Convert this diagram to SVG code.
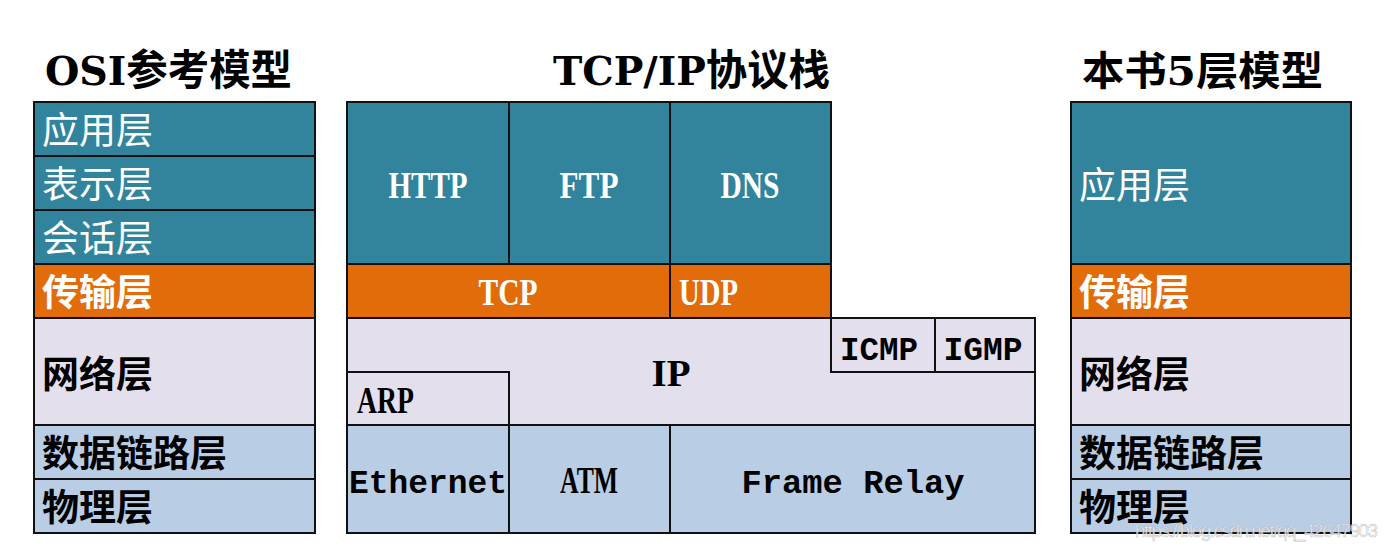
<svg xmlns="http://www.w3.org/2000/svg" width="1388" height="550" viewBox="0 0 1388 550">
<style>
.box{stroke:#111;stroke-width:2}
.app{fill:#31849B}
.tr{fill:#E36C0A}
.net{fill:#E4DFEC}
.link{fill:#B9CDE5}
.title{font-family:"DejaVu Serif","Noto Sans CJK SC",serif;font-weight:bold;font-size:40px;fill:#000}
.cj{font-family:"Noto Sans CJK SC",sans-serif;font-size:37px}
.w{fill:#fff}
.k{fill:#000;font-weight:bold}
.lat{font-family:"Liberation Serif",serif;font-weight:bold;font-size:37px}
.mono{font-family:"Liberation Mono",monospace;font-weight:bold;font-size:34px}
</style>
<rect width="1388" height="550" fill="#fff"/>
<g id="titles">
<text class="title" x="45" y="85" textLength="247" lengthAdjust="spacingAndGlyphs">OSI<tspan font-family="Noto Sans CJK SC, sans-serif" font-size="42">参考模型</tspan></text>
<text class="title" x="553" y="85" textLength="277" lengthAdjust="spacingAndGlyphs">TCP/IP<tspan font-family="Noto Sans CJK SC, sans-serif" font-size="42">协议栈</tspan></text>
<text class="title" x="1082" y="85" textLength="241" lengthAdjust="spacingAndGlyphs" font-family="Noto Sans CJK SC, sans-serif" font-size="42">本书5层模型</text>
</g>
<g id="osi">
<g id="osi-app"><rect class="box app" x="34" y="102" width="281" height="54"/><text class="cj w" x="42" y="144">应用层</text></g>
<g id="osi-pres"><rect class="box app" x="34" y="156" width="281" height="54"/><text class="cj w" x="42" y="198">表示层</text></g>
<g id="osi-sess"><rect class="box app" x="34" y="210" width="281" height="54"/><text class="cj w" x="42" y="252">会话层</text></g>
<g id="osi-trans"><rect class="box tr" x="34" y="264" width="281" height="54"/><text class="cj w" x="42" y="306" font-weight="bold">传输层</text></g>
<g id="osi-net"><rect class="box net" x="34" y="318" width="281" height="107"/><text class="cj k" x="42" y="388">网络层</text></g>
<g id="osi-link"><rect class="box link" x="34" y="425" width="281" height="54"/><text class="cj k" x="42" y="467">数据链路层</text></g>
<g id="osi-phy"><rect class="box link" x="34" y="479" width="281" height="54"/><text class="cj k" x="42" y="521">物理层</text></g>
</g>
<g id="tcpip">
<g id="http"><rect class="box app" x="347" y="102" width="162" height="162"/><text class="lat w" x="428" y="198" text-anchor="middle" textLength="79" lengthAdjust="spacingAndGlyphs">HTTP</text></g>
<g id="ftp"><rect class="box app" x="509" y="102" width="161" height="162"/><text class="lat w" x="589" y="198" text-anchor="middle" textLength="59" lengthAdjust="spacingAndGlyphs">FTP</text></g>
<g id="dns"><rect class="box app" x="670" y="102" width="161" height="162"/><text class="lat w" x="750" y="198" text-anchor="middle" textLength="59" lengthAdjust="spacingAndGlyphs">DNS</text></g>
<g id="tcp"><rect class="box tr" x="347" y="264" width="323" height="54"/><text class="lat w" x="508" y="305" text-anchor="middle" textLength="59" lengthAdjust="spacingAndGlyphs">TCP</text></g>
<g id="udp"><rect class="box tr" x="670" y="264" width="161" height="54"/><text class="lat w" x="679" y="305" textLength="59" lengthAdjust="spacingAndGlyphs">UDP</text></g>
<g id="ip"><polygon class="box net" points="347,318 831,318 831,372 1035,372 1035,425 509,425 509,372 347,372"/><text class="lat k" x="671" y="386" text-anchor="middle" textLength="39" lengthAdjust="spacingAndGlyphs">IP</text></g>
<g id="icmp"><rect class="box net" x="831" y="318" width="104" height="54"/><text class="mono k" x="879" y="360" text-anchor="middle" textLength="78" lengthAdjust="spacingAndGlyphs">ICMP</text></g>
<g id="igmp"><rect class="box net" x="935" y="318" width="100" height="54"/><text class="mono k" x="983" y="360" text-anchor="middle" textLength="79" lengthAdjust="spacingAndGlyphs">IGMP</text></g>
<g id="arp"><rect class="box net" x="347" y="372" width="162" height="53"/><text class="lat k" x="357" y="413" textLength="57" lengthAdjust="spacingAndGlyphs">ARP</text></g>
<g id="ethernet"><rect class="box link" x="347" y="425" width="162" height="108"/><text class="mono k" x="428" y="493" text-anchor="middle" textLength="158" lengthAdjust="spacingAndGlyphs">Ethernet</text></g>
<g id="atm"><rect class="box link" x="509" y="425" width="161" height="108"/><text class="lat k" x="589" y="493" text-anchor="middle" textLength="58" lengthAdjust="spacingAndGlyphs">ATM</text></g>
<g id="framerelay"><rect class="box link" x="670" y="425" width="365" height="108"/><text class="mono k" x="853" y="493" text-anchor="middle" textLength="223" lengthAdjust="spacingAndGlyphs">Frame Relay</text></g>
</g>
<g id="five">
<g id="f-app"><rect class="box app" x="1071" y="102" width="280" height="162"/><text class="cj w" x="1079" y="199">应用层</text></g>
<g id="f-trans"><rect class="box tr" x="1071" y="264" width="280" height="54"/><text class="cj w" x="1079" y="306" font-weight="bold">传输层</text></g>
<g id="f-net"><rect class="box net" x="1071" y="318" width="280" height="107"/><text class="cj k" x="1079" y="388">网络层</text></g>
<g id="f-link"><rect class="box link" x="1071" y="425" width="280" height="54"/><text class="cj k" x="1079" y="467">数据链路层</text></g>
<g id="f-phy"><rect class="box link" x="1071" y="479" width="280" height="54"/><text class="cj k" x="1079" y="521">物理层</text></g>
</g>
<g id="connectors"></g>
<text x="1135" y="537" font-family="Liberation Sans, sans-serif" font-size="19" fill="#f2f2f2" fill-opacity="0.8" stroke="#9a9a9a" stroke-width="0.5" stroke-opacity="0.6" textLength="243">https://blog.csdn.net/qq_42647903</text>
</svg>
